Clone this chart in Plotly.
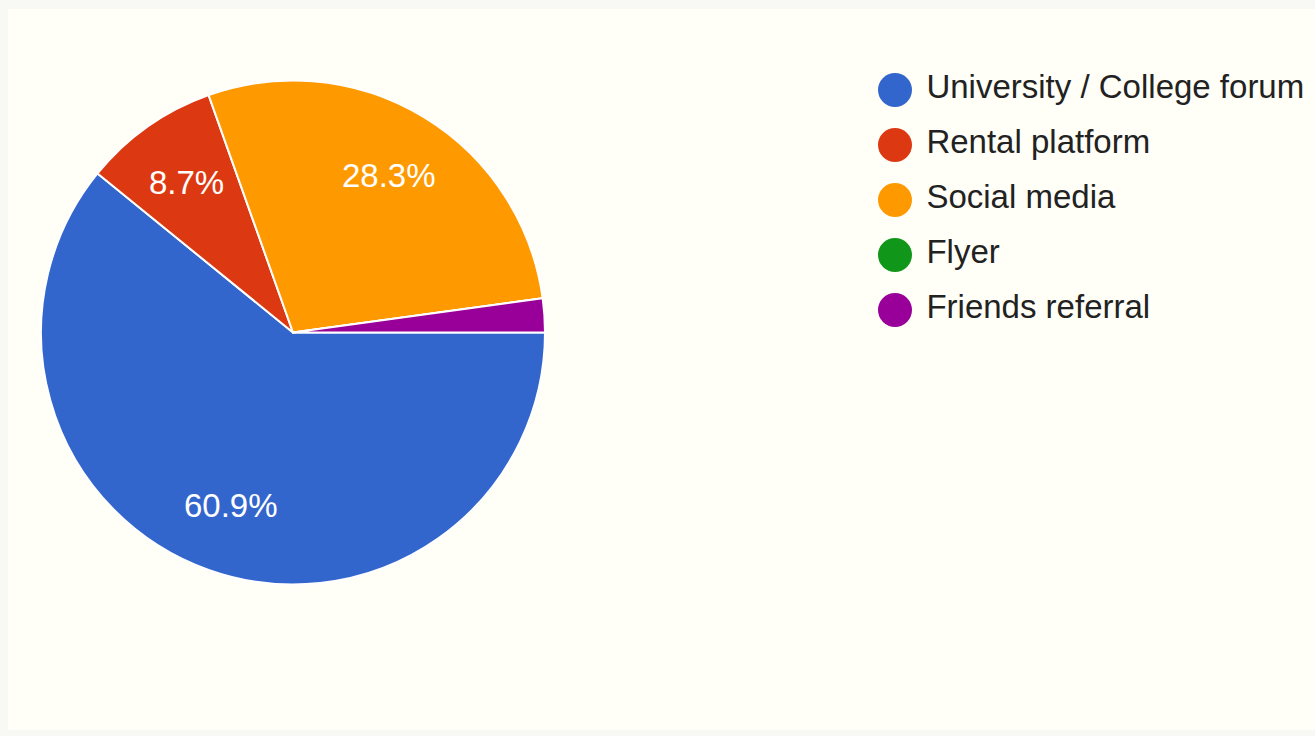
import numpy as np
import plotly.graph_objects as go

# ---- data ----
labels = ["University / College forum", "Rental platform", "Social media", "Flyer", "Friends referral"]
counts = [28, 4, 13, 0, 1]
colors = ["#3366cc", "#dc3912", "#ff9900", "#109618", "#990099"]
show_pct = [True, True, True, False, False]

W, H = 1315, 736
FONT = "Arial, 'Liberation Sans', sans-serif"

# pie geometry (pixels)
cx, cy, r = 293, 332.5, 252
pie_domain = dict(x=[(cx - r) / W, (cx + r) / W],
                  y=[(H - cy - r) / H, (H - cy + r) / H])

fig = go.Figure()
fig.add_trace(go.Pie(
    labels=labels,
    values=counts,
    sort=False,
    direction="clockwise",
    rotation=90,
    marker=dict(colors=colors, line=dict(color="#ffffff", width=2)),
    textinfo="none",
    hoverinfo="label+percent",
    showlegend=False,
    domain=pie_domain,
))

# percentage labels on slice bisectors, placed in a unit-circle axis that covers the pie
vals = np.array(counts, dtype=float)
total = vals.sum()
mid_theta = np.deg2rad(90 + (np.cumsum(vals) - vals / 2) / total * 360)  # clockwise from north
label_r = 0.73
annotations = []
for i, s in enumerate(show_pct):
    if not s:
        continue
    annotations.append(dict(
        x=label_r * np.sin(mid_theta[i]), y=label_r * np.cos(mid_theta[i]),
        xref="x3", yref="y3", text=f"{vals[i] / total * 100:.1f}%", showarrow=False,
        font=dict(family=FONT, size=33, color="#ffffff"),
        xanchor="center", yanchor="middle",
    ))

# custom legend with circle markers
row_top, row_gap = 90, 55
idx = list(range(len(labels)))
fig.add_trace(go.Scatter(
    x=[0] * len(labels),
    y=idx,
    mode="markers+text",
    marker=dict(color=colors, size=34, symbol="circle"),
    text=[" " + l for l in labels],
    textposition="middle right",
    textfont=dict(family=FONT, size=33, color="#222222"),
    xaxis="x2", yaxis="y2",
    hoverinfo="skip",
    showlegend=False,
    cliponaxis=False,
))

span = H / row_gap
top_val = -row_top / row_gap
fig.update_layout(
    width=W, height=H,
    margin=dict(l=0, r=0, t=0, b=0),
    paper_bgcolor="#f8f9f4",
    plot_bgcolor="rgba(0,0,0,0)",
    xaxis2=dict(domain=[895 / W, 1], range=[0, 1], visible=False, fixedrange=True),
    yaxis2=dict(domain=[0, 1], range=[top_val + span, top_val], visible=False, fixedrange=True,
                anchor="x2"),
    xaxis3=dict(domain=pie_domain["x"], range=[-1, 1], visible=False, fixedrange=True, anchor="y3"),
    yaxis3=dict(domain=pie_domain["y"], range=[-1, 1], visible=False, fixedrange=True, anchor="x3"),
    annotations=annotations,
    shapes=[dict(type="rect", xref="paper", yref="paper",
                 x0=8 / W, x1=1, y0=6 / H, y1=1 - 9 / H,
                 fillcolor="#fffef7", line=dict(width=0), layer="below")],
)

fig.write_html("out.html", config={"displayModeBar": False},
               post_script="document.body.style.margin='0px';")
